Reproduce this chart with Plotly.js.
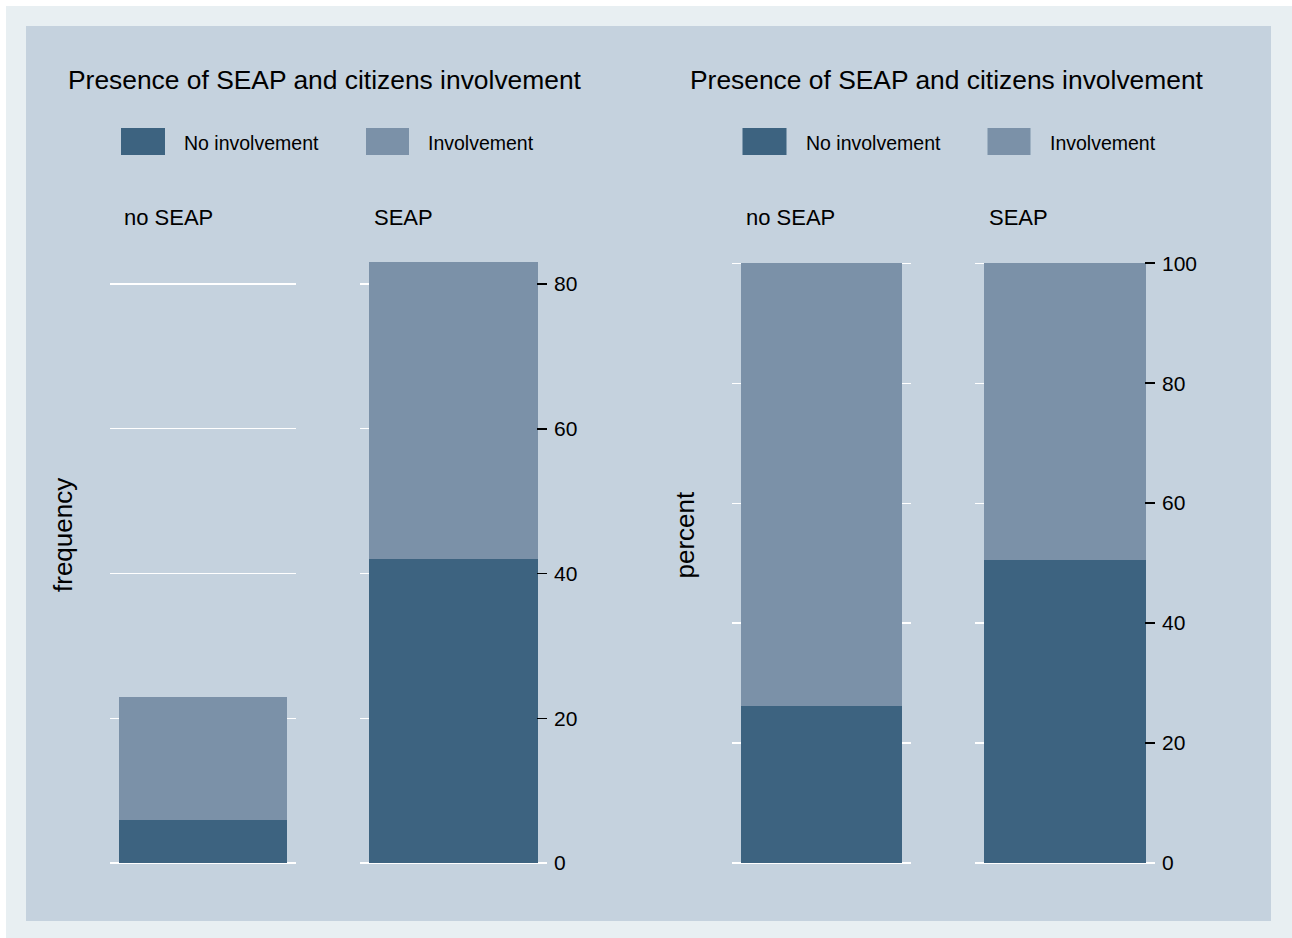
<!DOCTYPE html>
<html><head><meta charset="utf-8">
<script src="https://cdn.plot.ly/plotly-3.0.1.min.js"></script>
<style>html,body{margin:0;padding:0;background:#fff}#chart{width:1292px;height:938px}</style>
</head><body><div id="chart"></div>
<script>
// ---- data ----
const categories = ["no SEAP", "SEAP"];
const seriesNames = ["No involvement", "Involvement"];
const freqNoInvolvement = [6, 42];
const freqInvolvement = [17, 41];
const pctNoInvolvement = [26.1, 50.6];
const pctInvolvement = [73.9, 49.4];
const freqTicks = [0, 20, 40, 60, 80];
const pctTicks = [0, 20, 40, 60, 80, 100];
const panelTitle = "Presence of SEAP and citizens involvement";
const yTitles = ["frequency", "percent"];

// ---- styling ----
const W = 1292, H = 938;
const px = x => x / W;
const py = y => 1 - y / H;
const DARK = "#3d6380", LIGHT = "#7b91a8";
const FONT = "Liberation Sans, Arial, sans-serif";

const panels = [
  {series: [freqNoInvolvement, freqInvolvement], ticks: freqTicks, range: [0, 83.05], top: 262,
   facets: [[110, 296], [360, 547]], offset: 0},
  {series: [pctNoInvolvement, pctInvolvement], ticks: pctTicks, range: [0, 100.2], top: 262,
   facets: [[732, 911], [975, 1155]], offset: 621.5}
];
const BOTTOM = 863;

const data = [];
const layout = {
  width: W, height: H,
  margin: {l: 0, r: 0, t: 0, b: 0},
  paper_bgcolor: "#ffffff",
  plot_bgcolor: "rgba(0,0,0,0)",
  barmode: "stack",
  showlegend: false,
  font: {family: FONT, color: "#000"},
  shapes: [
    {type: "rect", xref: "paper", yref: "paper", x0: px(6), x1: px(1292), y0: py(938), y1: py(6),
     fillcolor: "#e8eff2", line: {width: 0}, layer: "below"},
    {type: "rect", xref: "paper", yref: "paper", x0: px(26), x1: px(1271), y0: py(921), y1: py(26),
     fillcolor: "#c5d2de", line: {width: 0}, layer: "below"}
  ],
  annotations: []
};

panels.forEach((p, pi) => {
  p.facets.forEach((fx, fi) => {
    const idx = pi * 2 + fi + 1;
    const xk = "xaxis" + (idx === 1 ? "" : idx);
    const yk = "yaxis" + (idx === 1 ? "" : idx);
    const xr = "x" + (idx === 1 ? "" : idx);
    const yr = "y" + (idx === 1 ? "" : idx);
    layout[xk] = {domain: [px(fx[0]), px(fx[1])], range: [-0.5, 0.5], type: "category",
      visible: false, anchor: yr, fixedrange: true};
    const ya = {domain: [py(BOTTOM), py(p.top)], range: p.range, anchor: xr,
      tickvals: p.ticks, showgrid: true, gridcolor: "#ffffff", gridwidth: 1.2,
      zeroline: true, zerolinecolor: "#ffffff", zerolinewidth: 1.2, showline: false, fixedrange: true};
    if (fi === 0) {
      Object.assign(ya, {showticklabels: false, ticks: ""});
    } else {
      Object.assign(ya, {side: "right", ticks: "inside", ticklen: 10, tickwidth: 1.5, tickcolor: "#000",
        showticklabels: true, ticklabelstandoff: 6, tickfont: {size: 21, color: "#000", family: FONT}});
    }
    layout[yk] = ya;
    [0, 1].forEach(si => {
      data.push({type: "bar", x: [categories[fi]], y: [p.series[si][fi]], name: seriesNames[si],
        xaxis: xr, yaxis: yr, width: 0.9,
        marker: {color: si === 0 ? DARK : LIGHT, line: {width: 0}}, hoverinfo: "name+y"});
    });
    // facet label
    layout.annotations.push({xref: "paper", yref: "paper", x: px(fx[0] + 12), y: py(217),
      xanchor: "left", yanchor: "middle", text: categories[fi], showarrow: false,
      font: {size: 22, color: "#000", family: FONT}});
  });
  const o = p.offset;
  // title
  layout.annotations.push({xref: "paper", yref: "paper", x: px(325 + o), y: py(80),
    xanchor: "center", yanchor: "middle", text: panelTitle, showarrow: false,
    font: {size: 26.4, color: "#000", family: FONT}});
  // y title
  layout.annotations.push({xref: "paper", yref: "paper", x: px(63 + o), y: py(535),
    xanchor: "center", yanchor: "middle", text: yTitles[pi], textangle: -90, showarrow: false,
    font: {size: 26, color: "#000", family: FONT}});
  // legend
  const sw = [[121, 165], [366, 409]];
  const tx = [184, 428];
  [0, 1].forEach(si => {
    layout.shapes.push({type: "rect", xref: "paper", yref: "paper",
      x0: px(sw[si][0] + o), x1: px(sw[si][1] + o), y0: py(155), y1: py(128),
      fillcolor: si === 0 ? DARK : LIGHT, line: {width: 0}});
    layout.annotations.push({xref: "paper", yref: "paper", x: px(tx[si] + o - 2), y: py(143),
      xanchor: "left", yanchor: "middle", text: seriesNames[si], showarrow: false,
      font: {size: 19.5, color: "#000", family: FONT}});
  });
});

Plotly.newPlot("chart", data, layout, {displayModeBar: false, staticPlot: true});
</script>
</body></html>
